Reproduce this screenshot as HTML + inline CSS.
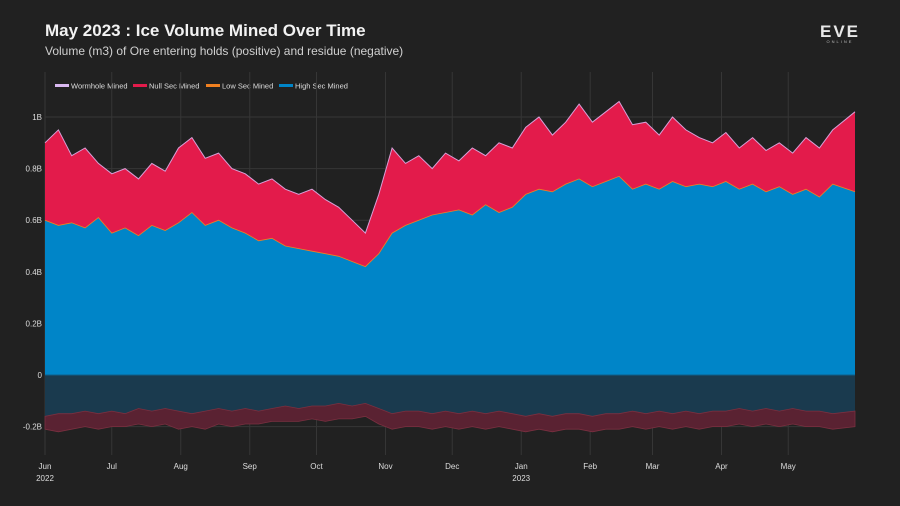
<!DOCTYPE html>
<html><head><meta charset="utf-8">
<style>
body{margin:0;background:#212121;width:900px;height:506px;overflow:hidden;font-family:"Liberation Sans",sans-serif;}
svg{display:block}
</style></head>
<body>
<svg id="chart" width="900" height="506" xmlns="http://www.w3.org/2000/svg">
<rect width="900" height="506" fill="#212121"/>
<text x="45" y="36" fill="#f2f2f2" font-size="17" font-weight="bold">May 2023 : Ice Volume Mined Over Time</text>
<text x="45" y="55" fill="#d0d0d0" font-size="12">Volume (m3) of Ore entering holds (positive) and residue (negative)</text>
<g>
<text x="840" y="37" fill="#e8e8e8" font-size="17" font-weight="bold" text-anchor="middle" letter-spacing="2">EVE</text>
<text x="840" y="43" fill="#bbb" font-size="4" text-anchor="middle" letter-spacing="2">ONLINE</text>
</g>
<g id="legend"></g>
<g id="grid"></g>
<g id="plot"></g>
<g id="axes"></g>
</svg>
<script>
const days=[0,6,12,18,24,30,36,42,48,54,60,66,72,78,84,90,96,102,108,114,120,126,132,138,144,150,156,162,168,174,180,186,192,198,204,210,216,222,228,234,240,246,252,258,264,270,276,282,288,294,300,306,312,318,324,330,336,342,348,354,364];
const highSec=[0.60,0.58,0.59,0.57,0.61,0.55,0.57,0.54,0.58,0.56,0.59,0.63,0.58,0.60,0.57,0.55,0.52,0.53,0.50,0.49,0.48,0.47,0.46,0.44,0.42,0.47,0.55,0.58,0.60,0.62,0.63,0.64,0.62,0.66,0.63,0.65,0.70,0.72,0.71,0.74,0.76,0.73,0.75,0.77,0.72,0.74,0.72,0.75,0.73,0.74,0.73,0.75,0.72,0.74,0.71,0.73,0.70,0.72,0.69,0.74,0.71];
const totalMined=[0.90,0.95,0.85,0.88,0.82,0.78,0.80,0.76,0.82,0.79,0.88,0.92,0.84,0.86,0.80,0.78,0.74,0.76,0.72,0.70,0.72,0.68,0.65,0.60,0.55,0.70,0.88,0.82,0.85,0.80,0.86,0.83,0.88,0.85,0.90,0.88,0.96,1.00,0.93,0.98,1.05,0.98,1.02,1.06,0.97,0.98,0.93,1.00,0.95,0.92,0.90,0.94,0.88,0.92,0.87,0.90,0.86,0.92,0.88,0.95,1.02];
const highRes=[-0.16,-0.15,-0.15,-0.14,-0.15,-0.14,-0.15,-0.13,-0.14,-0.13,-0.14,-0.15,-0.14,-0.13,-0.14,-0.13,-0.14,-0.13,-0.12,-0.13,-0.12,-0.12,-0.11,-0.12,-0.11,-0.13,-0.15,-0.14,-0.14,-0.15,-0.14,-0.15,-0.14,-0.15,-0.14,-0.15,-0.16,-0.15,-0.16,-0.15,-0.15,-0.16,-0.15,-0.15,-0.14,-0.15,-0.14,-0.15,-0.14,-0.15,-0.14,-0.14,-0.13,-0.14,-0.13,-0.14,-0.13,-0.14,-0.14,-0.15,-0.14];
const totalRes=[-0.21,-0.22,-0.21,-0.20,-0.21,-0.20,-0.20,-0.19,-0.20,-0.19,-0.21,-0.20,-0.21,-0.19,-0.20,-0.19,-0.19,-0.18,-0.18,-0.18,-0.17,-0.18,-0.17,-0.17,-0.16,-0.19,-0.21,-0.20,-0.20,-0.21,-0.20,-0.21,-0.20,-0.21,-0.20,-0.21,-0.22,-0.21,-0.22,-0.21,-0.21,-0.22,-0.21,-0.21,-0.20,-0.21,-0.20,-0.21,-0.20,-0.21,-0.20,-0.20,-0.19,-0.20,-0.19,-0.20,-0.19,-0.20,-0.20,-0.21,-0.20];
const yTicks=[-0.2,0,0.2,0.4,0.6,0.8,1];
const yTickLabels=["-0.2B","0","0.2B","0.4B","0.6B","0.8B","1B"];
const monthDays=[0,30,61,92,122,153,183,214,245,273,304,334];
const monthLabels=["Jun","Jul","Aug","Sep","Oct","Nov","Dec","Jan","Feb","Mar","Apr","May"];
const legendLabels=["Wormhole Mined","Null Sec Mined","Low Sec Mined","High Sec Mined"];
const legendColors=["#d9b8f0","#e31b4b","#f08020","#0085c8"];

const NS="http://www.w3.org/2000/svg";
const X0=45,X1=855,DMAX=364,YT=72,YB=455;
const xs=d=>X0+(X1-X0)*d/DMAX;
const ys=v=>375-v*258;
function mk(tag,attrs,parent){const e=document.createElementNS(NS,tag);for(const k in attrs)e.setAttribute(k,attrs[k]);parent.appendChild(e);return e;}
const grid=document.getElementById('grid'),plot=document.getElementById('plot'),axes=document.getElementById('axes'),legend=document.getElementById('legend');

yTicks.forEach((t,i)=>{
  const l=mk('line',{x1:X0,x2:X1,y1:ys(t),y2:ys(t),stroke:'#363636','stroke-width':1},grid);
  
  
  const tx=mk('text',{x:42,y:ys(t)+3,fill:'#ddd','font-size':8,'text-anchor':'end'},axes);
  tx.textContent=yTickLabels[i];
  
  
});
monthDays.forEach((d,i)=>{
  const l=mk('line',{x1:xs(d),x2:xs(d),y1:YT,y2:YB,stroke:'#363636','stroke-width':1},grid);
  
  
  const tx=mk('text',{x:xs(d),y:469,fill:'#ddd','font-size':8,'text-anchor':'middle'},axes);
  tx.textContent=monthLabels[i];
  
  
});
[[0,"2022"],[214,"2023"]].forEach(([d,y])=>{
  const tx=mk('text',{x:xs(d),y:481,fill:'#ddd','font-size':8,'text-anchor':'middle'},axes);
  tx.textContent=y;
  
  
});

function line(arr){return days.map((d,i)=>xs(d).toFixed(1)+','+ys(arr[i]).toFixed(1)).join(' L');}
function band(top,bot){
  let p='M'+line(top);
  const r=days.map((d,i)=>[d,i]).reverse();
  p+=' L'+r.map(([d,i])=>xs(d).toFixed(1)+','+(bot?ys(bot[i]):ys(0)).toFixed(1)).join(' L')+' Z';
  return p;
}
let p=mk('path',{d:band(highRes,null),fill:'#1a3a4e'},plot);


p=mk('path',{d:band(totalRes,highRes),fill:'#5a2232',stroke:'#7a3040','stroke-width':0.8},plot);


p=mk('path',{d:band(totalMined,highSec),fill:'#e31b4b'},plot);


p=mk('path',{d:band(highSec,null),fill:'#0085c8'},plot);


p=mk('path',{d:'M'+line(highSec),fill:'none',stroke:'#f08020','stroke-width':0.8},plot);


p=mk('path',{d:'M'+line(totalMined),fill:'none',stroke:'#d9a0d8','stroke-width':1},plot);


p=mk('line',{x1:X0,x2:X1,y1:ys(0),y2:ys(0),stroke:'#0e5f8a','stroke-width':1},plot);



let lx=55;
const widths=[78,73,73,78];
legendLabels.forEach((lab,i)=>{
  const g=mk('g',{},legend);
  
  
  mk('rect',{x:lx,y:84,width:14,height:3,fill:legendColors[i]},g);
  const t=mk('text',{x:lx+16,y:88.5,fill:'#ddd','font-size':7.5},g);
  t.textContent=lab;
  lx+=widths[i];
});
</script>
</body></html>
